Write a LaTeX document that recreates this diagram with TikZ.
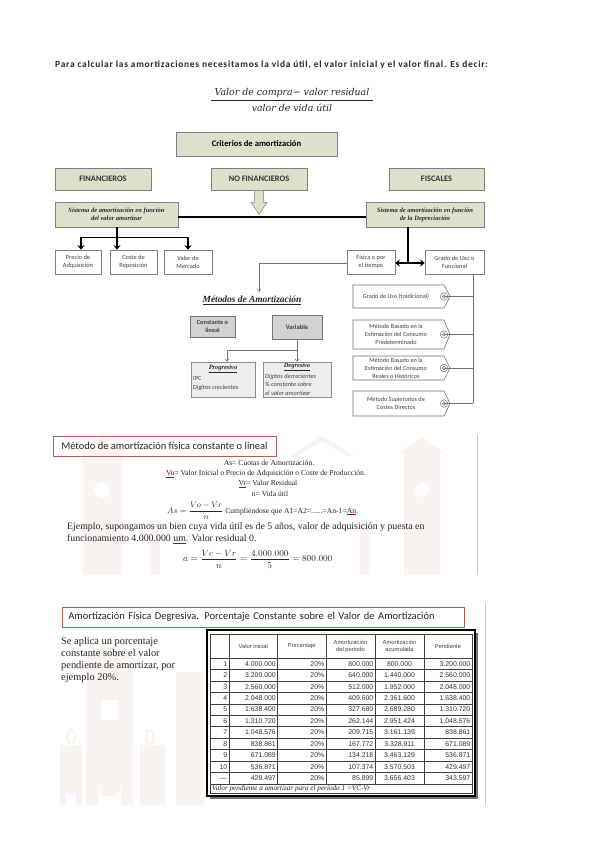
\documentclass[tikz,border=0pt]{standalone}
\usepackage{fontspec}
\usepackage{graphicx}
\setmainfont{Liberation Serif}
\newfontfamily\calfont{Carlito}
\newfontfamily\calspfont{Carlito}[LetterSpace=8]
\newfontfamily\arifont{Liberation Sans}
\newfontfamily\dvsfont{DejaVu Serif}
\usetikzlibrary{arrows.meta,shadows,calc}
\definecolor{boxgreen}{HTML}{DDE1CB}
\definecolor{boxline}{HTML}{808080}
\definecolor{txtgray}{HTML}{404040}
\definecolor{graybox}{HTML}{D2D2D2}
\definecolor{titlered}{HTML}{B5585F}
\definecolor{wm}{HTML}{F9F3F2}
\newcommand\squig[1]{\setbox0\hbox{#1}\rlap{\color{red!80!black}\raisebox{-1.3pt}{\rule{\wd0}{0.4pt}}}\box0}
\newcommand\fs[2]{\fontsize{#1}{#2}\selectfont}
\begin{document}
\begin{tikzpicture}[x=1pt,y=-1pt]
\tikzset{
 greenbox/.style={draw=boxline, line width=0.6pt, fill=boxgreen, inner sep=0pt, align=center,
   drop shadow={shadow xshift=1.3pt, shadow yshift=-1.3pt, fill=black!45, opacity=0.6}},
 whitebox/.style={draw=boxline, line width=0.6pt, fill=white, inner sep=0pt, align=center,
   text=txtgray, font=\calfont\fs{6.4}{7.6},
   drop shadow={shadow xshift=1pt, shadow yshift=-1pt, fill=black!30, opacity=0.5}},
 graybx/.style={draw=black!55, line width=0.6pt, fill=graybox, inner sep=0pt, align=center,
   text=txtgray, font=\calfont\bfseries\fs{6.3}{7.6},
   drop shadow={shadow xshift=1.3pt, shadow yshift=-1.3pt, fill=black!45, opacity=0.6}},
 patbox/.style={draw=black!45, line width=0.5pt, fill=black!7, inner sep=0pt,
   drop shadow={shadow xshift=1pt, shadow yshift=-1pt, fill=black!30, opacity=0.5}},
 thickln/.style={line width=1.3pt},
 tree/.style={line width=1.3pt, -{Stealth[length=4.5pt,width=7pt]}},
 dbl/.style={line width=1.3pt, {Stealth[length=4.5pt,width=7pt]}-{Stealth[length=4.5pt,width=7pt]}},
 thinln/.style={draw=black!55, line width=0.5pt},
 thinarr/.style={thinln, -{Straight Barb[length=2.5pt,width=4pt]}},
 tag/.style={draw=black!55, line width=0.6pt, fill=white},
 tagtxt/.style={font=\calfont\fs{6.2}{8}, text=txtgray, align=center, inner sep=0pt},
 titlebox/.style={draw=titlered, line width=0.8pt, inner sep=0pt, font=\calfont\fs{10.5}{12}, text=black!85},
 cell/.style={font=\arifont\fs{6.9}{8}, text=black!80, inner sep=0pt},
 hcell/.style={font=\arifont\fs{5.8}{7}, text=txtgray, inner sep=0pt, align=center},
 wmf/.style={fill=wm, draw=none},
}
\fill[white] (0,0) rectangle (599,848);
\useasboundingbox (0,0) rectangle (599,848);

% ---------- watermarks ----------
\begin{scope}
\fill[wmf] (83,452) rectangle (122,575);
\fill[wmf] (79,452) -- (102.5,438) -- (126,452) -- cycle;
\fill[white] (102,490) circle (8);
\fill[wmf] (404,452) rectangle (440,575);
\fill[wmf] (400,452) -- (422,438) -- (444,452) -- cycle;
\fill[white] (422,490) circle (7);
\fill[wmf] (290,456) -- (322,436) -- (354,456) -- (348,456) -- (322,441) -- (296,456) -- cycle;
\fill[wmf] (150,520) rectangle (160,575);
\fill[wmf] (360,520) rectangle (370,575);
\fill[wmf] (86,660) rectangle (133,805);
\fill[wmf] (80,662) -- (109.5,640) -- (139,662) -- cycle;
\fill[white] (98,805) -- (98,785) arc (180:0:11.5) -- (121,805) -- cycle;
\fill[white] (101,700) rectangle (118,720);
\fill[wmf] (176,672) rectangle (204,805);
\fill[wmf] (60,745) rectangle (82,805);
\fill[white] (66,805) -- (66,790) arc (180:0:5) -- (76,805) -- cycle;
\fill[wmf] (140,745) rectangle (165,805);
\draw[wm, line width=2pt] (71,737) ellipse (4 and 7);
\draw[wm, line width=2pt] (150,737) ellipse (4 and 7);
\end{scope}
\draw[black!20, line width=0.5pt] (477,434) -- (477,575);
\draw[black!20, line width=0.5pt] (485,603) -- (485,805);

% ---------- header text ----------
\node[anchor=west, inner sep=0pt, font=\calspfont\bfseries\fs{9.4}{10}, text=black!85] (intro) at (55,65)
 {Para calcular las amortizaciones necesitamos la vida útil, el valor inicial y el valor final. Es decir:};
\node[inner sep=0pt, font=\dvsfont\itshape\fs{9.4}{11}, text=black!85] (num) at (292,93) {Valor de compra− valor residual};
\node[inner sep=0pt, font=\dvsfont\itshape\fs{9.4}{11}, text=black!85] (den) at (292,108) {valor de vida útil};
\draw[black!85, line width=0.6pt] (211,100) -- (373,100);

% ---------- criteria diagram ----------
\node[greenbox, minimum width=161pt, minimum height=24pt, font=\calfont\bfseries\fs{8.6}{10}] (crit) at (256.5,144) {Criterios de amortización};
\node[greenbox, minimum width=96pt, minimum height=22pt, font=\calfont\bfseries\fs{8.4}{10}, text=black!80] (fin) at (103,179) {FINANCIEROS};
\node[greenbox, minimum width=96pt, minimum height=22pt, font=\calfont\bfseries\fs{8.4}{10}, text=black!80] (nofin) at (259,179) {NO FINANCIEROS};
\node[greenbox, minimum width=95pt, minimum height=22pt, font=\calfont\bfseries\fs{8.4}{10}, text=black!80] (fisc) at (436.5,179) {FISCALES};
\draw[draw=boxline, fill=boxgreen, line width=0.5pt]
 ([xshift=-4.5pt]nofin.south) -- ++(0,12) -- ++(-3.5,0) -- ++(8,12) -- ++(8,-12) -- ++(-3.5,0) -- ++(0,-12) -- cycle;
\node[greenbox, minimum width=123pt, minimum height=25pt, font=\bfseries\itshape\fs{6.5}{8}, text=black!85] (sisL) at (116.5,214.5)
 {Sistema de amortización en función\\del valor amortizar};
\node[greenbox, minimum width=118pt, minimum height=25pt, font=\bfseries\itshape\fs{6.5}{8}, text=black!85] (sisR) at (425,214.5)
 {Sistema de amortización en función\\de la Depreciación};
\draw[thickln] (sisL.east |- 0,217) -- (sisR.west |- 0,217);

\node[whitebox, minimum width=46pt, minimum height=24pt] (precio) at (78,262) {Precio de\\Adquisición};
\node[whitebox, minimum width=47pt, minimum height=24pt] (coste) at (133.5,262) {Coste de\\Reposición};
\node[whitebox, minimum width=48pt, minimum height=24pt] (valor) at (188,262) {Valor de\\Mercado};
\draw[thickln] ([xshift=0.5pt]sisL.south) -- ++(0,10) coordinate (lj);
\draw[tree] (lj) -- (lj |- coste.north);
\draw[tree] (lj) -| ([xshift=3pt]precio.north);
\draw[tree] (lj) -| (valor.north);

\node[whitebox, minimum width=48pt, minimum height=24pt] (fisica) at (371,262) {Física o por\\el tiempo};
\node[whitebox, minimum width=59pt, minimum height=24pt] (grado) at (454.5,262) {Grado de Uso o\\Funcional};
\draw[thickln] ([xshift=-17pt]sisR.south) -- ([xshift=-17pt]sisR.south |- 0,263);
\draw[dbl] ([yshift=-1pt]fisica.east) -- ([yshift=-1pt]grado.west);

\node[inner sep=0pt, font=\bfseries\itshape\fs{9.4}{11}, text=black!85] (metodos) at (252,300) {\underline{Métodos de Amortización}};
\coordinate (mtop) at (259,292);
\draw[thinarr] ([yshift=-1pt]fisica.west) -| (mtop);

\node[graybx, minimum width=45pt, minimum height=21pt] (const) at (212.5,326.5) {Constante o\\lineal};
\node[graybx, minimum width=50pt, minimum height=24pt, font=\calfont\bfseries\fs{6.6}{8}] (var) at (297,327) {Variable};
\node[patbox, minimum width=64pt, minimum height=35pt] (prog) at (223,379.5) {};
\node[patbox, minimum width=68pt, minimum height=35pt] (degr) at (297,379.5) {};
\node[inner sep=0pt, font=\bfseries\itshape\fs{6.4}{7}, text=black!85] (progt) at (223,369) {\underline{Progresivo}};
\node[anchor=west, inner sep=0pt, align=left, font=\calfont\fs{6.3}{9}, text=txtgray] (progx) at (193,383.5) {IPC\\Dígitos crecientes};
\node[inner sep=0pt, font=\bfseries\itshape\fs{6.4}{7}, text=black!85] (degrt) at (297,367) {\underline{Degresivo}};
\node[anchor=west, inner sep=0pt, align=left, font=\calfont\itshape\fs{6.3}{8.5}, text=txtgray] (degrx) at (265,384.5) {Dígitos decrecientes\\\% constante sobre\\el valor amortizar};
\draw[thinln] (var.south) -- ++(0,11) coordinate (vj);
\draw[thinarr] (vj) -- (degr.north);
\draw[thinarr] (vj) -| ([xshift=4pt]prog.north);

% tags
\coordinate (gv) at (473,274);
\draw[thinln] (gv) -- (473,403);
\foreach \i/\ya/\yb/\txt in {1/285/308/{Grado de Uso (tradicional)},
  2/320/349/{Método Basado en la\\Estimación del Consumo\\Predeterminado},
  3/356/380/{Método Basado en la\\Estimación del Consumo\\Reales o Históricos},
  4/391/416/{Método Supletorios de\\Costes Directos}} {
  \draw[tag] (353,\ya) -- (444,\ya) -- (450,{(\ya+\yb)/2}) -- (444,\yb) -- (353,\yb) -- cycle;
  \node[tagtxt] (tag\i) at (396,{(\ya+\yb)/2}) {\txt};
  \node[circle, draw=black!55, line width=0.5pt, minimum size=7.5pt, inner sep=0pt] (ring\i) at (444,{(\ya+\yb)/2}) {};
  \node[circle, draw=black!55, line width=0.4pt, minimum size=3.5pt, inner sep=0pt] (hole\i) at (444,{(\ya+\yb)/2}) {};
  \draw[thinln] (hole\i.center) -- (hole\i.center -| gv);
}

% ---------- section 2 ----------
\node[titlebox, minimum width=223pt, minimum height=20pt] (t2) at (164.5,446) {Método de amortización física constante o lineal};
\begin{scope}[every node/.style={inner sep=0pt, font=\fs{7.6}{9}, text=black!85}]
\node (as) at (269,463) {As= Cuotas de Amortización.};
\node (vo) at (266,474) {\squig{Vo}= Valor Inicial o Precio de Adquisición o Coste de Producción.};
\node (vr) at (268,484) {\squig{Vr}= Valor Residual};
\node (nv) at (270,494) {n= Vida útil};
\node[anchor=west] (asf) at (167,511) {$\displaystyle As=\frac{Vo-Vr}{n}$ Cumpliéndose que A1=A2=......=An-1=\squig{An}.};
\end{scope}
\begin{scope}[every node/.style={inner sep=0pt, font=\fs{9.85}{12}, text=black!85, anchor=west}]
\node (ej1) at (67,527) {Ejemplo, supongamos un bien cuya vida útil es de 5 años, valor de adquisición y puesta en};
\node (ej2) at (67,539) {funcionamiento 4.000.000 \squig{um}. Valor residual 0.};
\node[font=\fs{9.4}{12}] (af) at (183,559) {$\displaystyle a=\frac{Vc-Vr}{n}=\frac{4.000.000}{5}=800.000$};
\end{scope}

% ---------- section 3 ----------
\node[titlebox, anchor=west, minimum height=20pt, text width=390pt, inner xsep=6pt, align=left] (t3) at (62,617)
 {Amortización Física Degresiva. Porcentaje Constante sobre el Valor de Amortización};
\node[anchor=west, inner sep=0pt, align=left, font=\fs{10.4}{12.2}, text=black!85] (se) at (61,660)
 {Se aplica un porcentaje\\constante sobre el valor\\pendiente de amortizar, por\\ejemplo 20\%.};

\fill[black!55] (209.5,632.5) rectangle (477.5,798.5);
\draw[black, line width=1.3pt, fill=white] (207,630) rectangle (475,796);
\def\Xa{210}\def\Xb{229}\def\Xc{277.5}\def\Xd{326}\def\Xe{375}\def\Xf{424}\def\Xg{472}
\begin{scope}[black!75, line width=0.5pt]
\draw (\Xa,634) rectangle (\Xg,793);
\draw (\Xa,658) -- (\Xg,658);
\foreach \k in {1,...,11} { \draw (\Xa,{658+11.45*\k}) -- (\Xg,{658+11.45*\k}); }
\foreach \xx in {\Xb,\Xc,\Xd,\Xe,\Xf} { \draw (\xx,634) -- (\xx,783.95); }
\end{scope}
\node[hcell] (h1) at ({(\Xb+\Xc)/2},646) {Valor inicial};
\node[hcell] (h2) at ({(\Xc+\Xd)/2},646) {Porcentaje};
\node[hcell] (h3) at ({(\Xd+\Xe)/2},646) {Amortización\\del periodo};
\node[hcell] (h4) at ({(\Xe+\Xf)/2},646) {Amortización\\acumulada};
\node[hcell] (h5) at ({(\Xf+\Xg)/2},646) {Pendiente};
\foreach \r/\n/\a/\b/\c/\d in {
 1/1/4.000.000/800.000/800.000/3.200.000,
 2/2/3.200.000/640.000/1.440.000/2.560.000,
 3/3/2.560.000/512.000/1.952.000/2.048.000,
 4/4/2.048.000/409.600/2.361.600/1.638.400,
 5/5/1.638.400/327.680/2.689.280/1.310.720,
 6/6/1.310.720/262.144/2.951.424/1.048.576,
 7/7/1.048.576/209.715/3.161.139/838.861,
 8/8/838.861/167.772/3.328.911/671.089,
 9/9/671.089/134.218/3.463.129/536.871,
 10/10/536.871/107.374/3.570.503/429.497,
 11/\_\_/429.497/85.899/3.656.403/343.597} {
 \node[cell, anchor=east] (r\r c0) at (\Xb-1.5,{658+11.45*(\r-0.5)}) {\n};
 \node[cell, anchor=east] (r\r c1) at (\Xc-1.5,{658+11.45*(\r-0.5)}) {\a};
 \node[cell, anchor=east] (r\r c2) at (\Xd-1.5,{658+11.45*(\r-0.5)}) {20\%};
 \node[cell, anchor=east] (r\r c3) at (\Xe-1.5,{658+11.45*(\r-0.5)}) {\b};
 \node[cell] (r\r c4) at ({(\Xe+\Xf)/2},{658+11.45*(\r-0.5)}) {\c};
 \node[cell, anchor=east] (r\r c5) at (\Xg-1.5,{658+11.45*(\r-0.5)}) {\d};
}
\node[anchor=west, inner sep=0pt, font=\itshape\fs{7.2}{8}, text=black!85] (foot) at (212,789) {Valor pendiente a amortizar para el período 1 =VC-Vr};
\end{tikzpicture}
\end{document}
